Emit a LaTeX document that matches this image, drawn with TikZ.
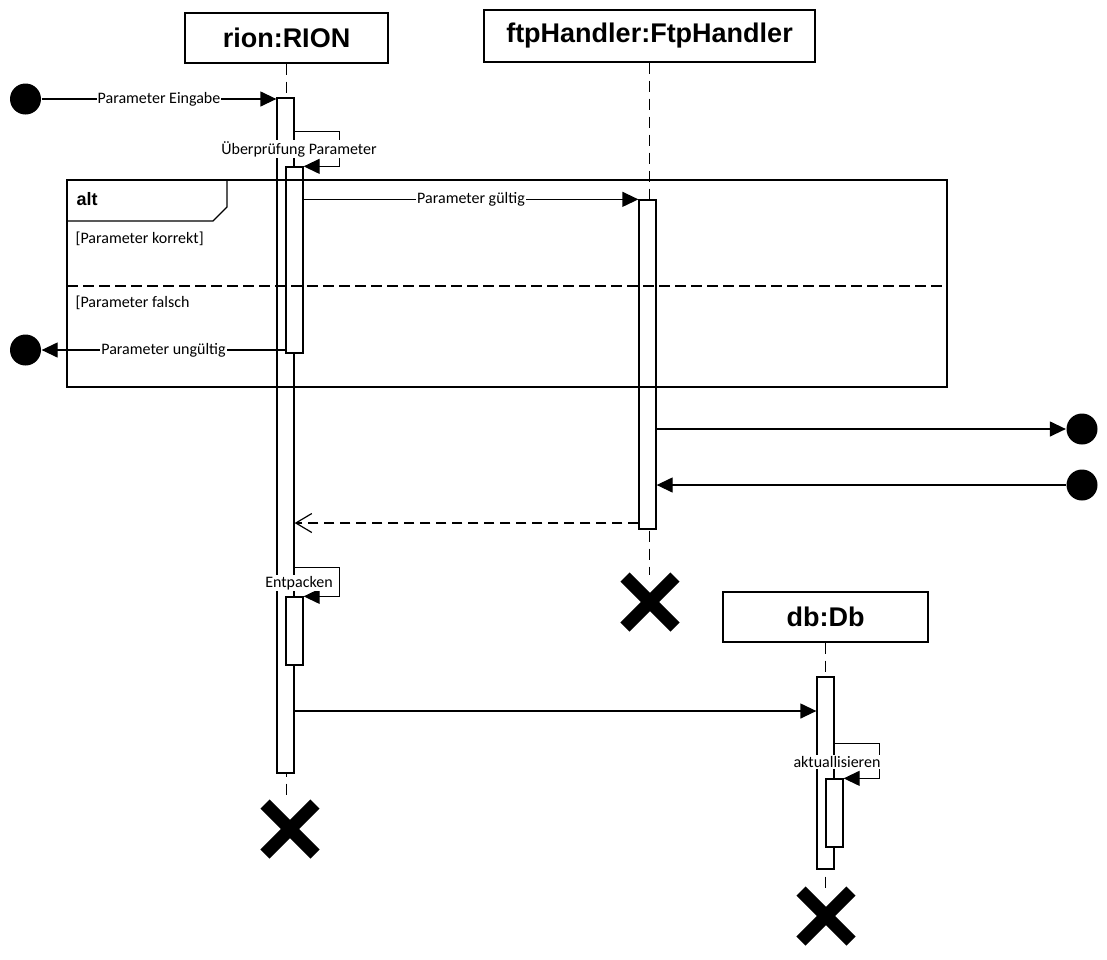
\documentclass[tikz,border=0pt]{standalone}
\usepackage{fontspec}
\setmainfont{Carlito}
\newfontfamily\headfont{Liberation Sans}
\usetikzlibrary{arrows.meta,calc}
\begin{document}
\begin{tikzpicture}[x=1pt,y=-1pt,line width=1.3pt,
  head/.style={draw,fill=white,inner sep=0pt,minimum height=50pt,font=\headfont\fontsize{27}{30}\selectfont\bfseries},
  actbar/.style={draw,fill=white,inner sep=0pt,minimum width=17pt},
  endpt/.style={circle,fill=black,inner sep=0pt,minimum size=31pt},
  lifeline/.style={dash pattern=on 11pt off 7pt},
  msg/.style={-{Triangle[length=16pt,width=15pt]}},
  ret/.style={dash pattern=on 10pt off 6pt,-{Straight Barb[length=16pt,width=19pt,line width=1.2pt]}},
  lbl/.style={fill=white,inner sep=1pt,font=\fontsize{16}{18}\selectfont},
  guard/.style={anchor=west,inner sep=0pt,font=\fontsize{16}{18}\selectfont},
  kill/.style={line width=13pt}]
\useasboundingbox (0,0) rectangle (1107,959);

% lifeline heads
\node[head,minimum width=203pt] (rion) at (286.5,38) {rion:RION};
\node[head,minimum width=331pt,minimum height=52pt] (ftp) at (649.5,36) {ftpHandler:FtpHandler};
\node[head,minimum width=205pt] (db) at (825.5,617) {db:Db};

% destruction coordinates
\coordinate (xr) at (290,829);
\coordinate (xf) at (650,602);
\coordinate (xd) at (826,916);

% lifelines
\draw[lifeline] (rion.south) -- (rion.south |- 0,800);
\draw[lifeline] (ftp.south) -- (ftp.south |- 0,575);
\draw[lifeline] (db.south) -- (db.south |- 0,890);

% activation bars
\node[actbar,minimum height=675pt] (rbar) at (285.5,435.5) {};
\node[actbar,minimum height=186pt] (rbar2) at (294.5,260) {};
\node[actbar,minimum height=329pt] (fbar) at (647.5,364.5) {};
\node[actbar,minimum height=68pt] (rbar3) at (294.5,631) {};
\node[actbar,minimum height=192pt] (dbar) at (825.5,773) {};
\node[actbar,minimum height=68pt] (dbar2) at (834.5,813) {};

% end points
\node[endpt] (cin) at (25.5,99) {};
\node[endpt] (cout) at (25.5,350) {};
\node[endpt] (cr1) at (1082,429) {};
\node[endpt] (cr2) at (1082,485) {};

% messages
\draw[msg] (cin.east) -- (cin.east -| rbar.west) node[lbl,midway] {Parameter Eingabe};
\draw[msg] ($(rbar.north east)+(0,34)$) -- ++(45,0) |- (rbar2.north east);
\node[lbl] (l1) at (299,149) {Überprüfung Parameter};
\draw[msg] (rbar2.east |- fbar.north) -- (fbar.north west) node[lbl,midway] {Parameter gültig};
\draw[msg] (rbar2.west |- cout.east) -- (cout.east) node[lbl,midway] {Parameter ungültig};
\draw[msg] (fbar.east |- cr1.west) -- (cr1.west);
\draw[msg] (cr2.west) -- (cr2.west -| fbar.east);
\coordinate (retp) at (0,523);
\draw[ret] (fbar.west |- retp) -- (rbar.east |- retp);
\draw[msg] ($(rbar.north east)+(0,470)$) -- ++(45,0) |- (rbar3.north east);
\node[lbl] (l2) at (299,583) {Entpacken};
\coordinate (dbp) at (0,711);
\draw[msg] (rbar.east |- dbp) -- (dbar.west |- dbp);
\draw[msg] ($(dbar.north east)+(0,67)$) -- ++(45,0) |- (dbar2.north east);
\node[lbl] (l3) at (837,762) {aktuallisieren};

% alt frame
\draw (67,180) rectangle (947,387);
\draw (67,221) -- (213,221) -- (227,207) -- (227,180);
\node[anchor=west,inner sep=0pt,font=\headfont\fontsize{18}{20}\selectfont\bfseries] (alt) at (76,199) {alt};
\node[guard] (g1) at (75,239) {[Parameter korrekt]};
\node[guard] (g2) at (75,303) {[Parameter falsch};
\draw[dash pattern=on 11pt off 5pt] (67,286) -- (947,286);

% destruction marks
\foreach \c in {xr,xf,xd}{
  \draw[kill] ($(\c)+(-25,-25)$) -- ($(\c)+(25,25)$);
  \draw[kill] ($(\c)+(-25,25)$) -- ($(\c)+(25,-25)$);
}
\end{tikzpicture}
\end{document}
